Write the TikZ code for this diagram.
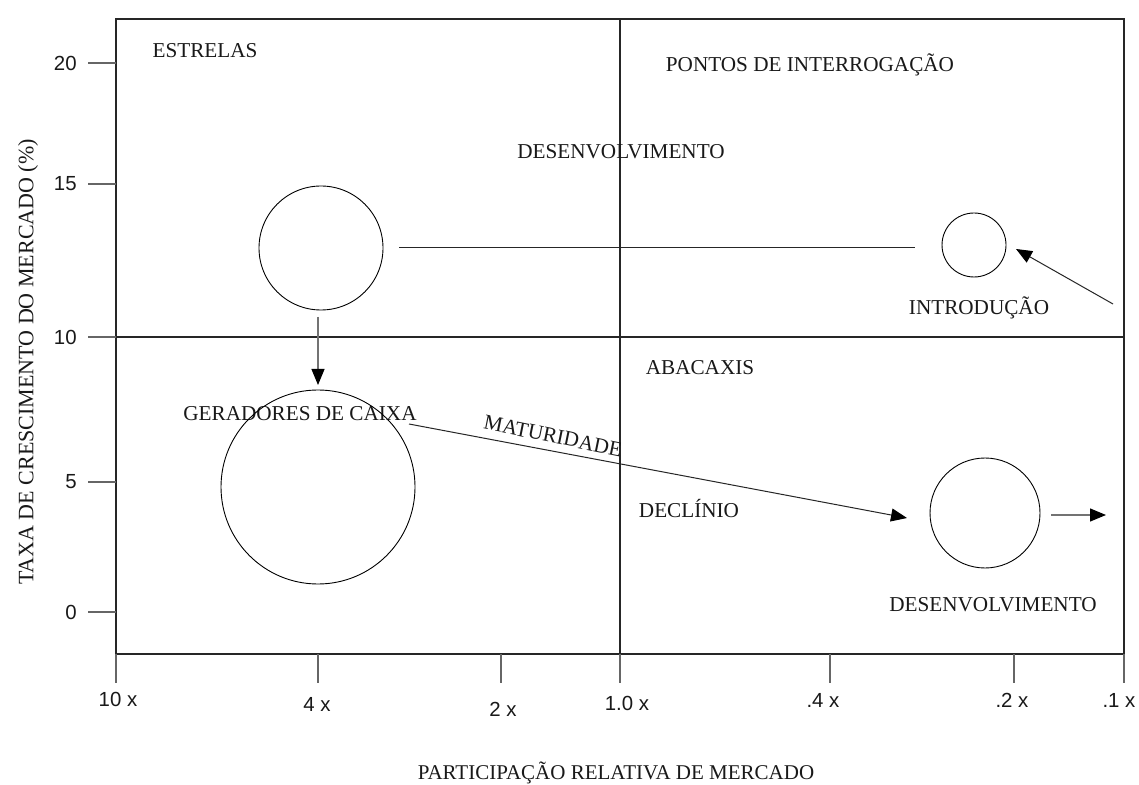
\documentclass[tikz,border=0pt]{standalone}
\usepackage{fontspec}
\setmainfont{Liberation Serif}
\newfontfamily\ticksans{Liberation Sans}
\usetikzlibrary{arrows.meta}
\begin{document}
\begin{tikzpicture}[x=0.5pt,y=-0.5pt,
  frameline/.style={line width=0.6pt,draw=black!85},
  tickline/.style={line width=0.6pt,draw=black!60},
  bubble/.style={circle,draw=black,line width=0.45pt,inner sep=0pt},
  lbl/.style={font=\fontsize{10.6}{12}\selectfont,text=black!90,inner sep=0pt},
  ticklbl/.style={font=\ticksans\fontsize{10.2}{12}\selectfont,text=black!90,inner sep=0pt},
  flow/.style={line width=0.5pt,draw=black!85,-{Triangle[length=8pt,width=6.5pt,color=black]}},
  greyflow/.style={line width=0.6pt,draw=black!55,-{Triangle[length=8pt,width=6.5pt,color=black]}},
  plain/.style={line width=0.5pt,draw=black!85}]
\useasboundingbox (0,0) rectangle (1139,785);
\fill[white] (0,0) rectangle (1139,785);
% frame and dividers
\draw[frameline] (116,19) rectangle (1124,654);
\draw[frameline] (620,19) -- (620,654);
\draw[frameline] (116,337) -- (1124,337);
% y ticks
\foreach \yy/\t in {63/20,184/15,337/10,482/5,612/0}{
  \draw[tickline] (88,\yy) -- (116,\yy);
  \node[ticklbl,anchor=east] at (77,\yy) {\t};
}
% x ticks
\foreach \xx in {116,318,501,620,830,1014,1124}{
  \draw[tickline] (\xx,654) -- (\xx,683);
}
\node[ticklbl] at (118,699) {10 x};
\node[ticklbl] at (317,704) {4 x};
\node[ticklbl] at (503,709) {2 x};
\node[ticklbl] at (627,703) {1.0 x};
\node[ticklbl] at (823,700) {.4 x};
\node[ticklbl] at (1012,700) {.2 x};
\node[ticklbl] at (1119,700) {.1 x};
% axis titles
\node[lbl,font=\fontsize{11}{13}\selectfont,rotate=90] (ytitle) at (28,362) {TAXA DE CRESCIMENTO DO MERCADO (\%)};
\node[lbl,font=\fontsize{10.5}{12}\selectfont] (xtitle) at (616,773) {PARTICIPAÇÃO RELATIVA DE MERCADO};
% quadrant labels
\node[lbl] (estrelas) at (205,51) {ESTRELAS};
\node[lbl] (pontos) at (810,65) {PONTOS DE INTERROGAÇÃO};
\node[lbl] (desenv1) at (621,152) {DESENVOLVIMENTO};
\node[lbl] (intro) at (979,308) {INTRODUÇÃO};
\node[lbl] (abacaxis) at (700,368) {ABACAXIS};
\node[lbl] (geradores) at (300,414) {GERADORES DE CAIXA};
\node[lbl] (declinio) at (689,509) {DECLÍNIO};
\node[lbl] (desenv2) at (993,605) {DESENVOLVIMENTO};
% bubbles
\node[bubble,minimum size=62pt] (c1) at (321,248) {};
\node[bubble,minimum size=32pt] (c2) at (974,245) {};
\node[bubble,minimum size=97pt] (c3) at (318,487) {};
\node[bubble,minimum size=55pt] (c4) at (985,513) {};
% connectors
\coordinate (l1a) at (399,248);
\coordinate (l1b) at (915,248);
\draw[plain] (l1a) -- (l1b);
\coordinate (a0) at (1113,304);
\coordinate (a0e) at (1016,249);
\draw[flow] (a0) -- (a0e);
\coordinate (d1) at (318,317);
\coordinate (d1e) at (318,385);
\draw[greyflow] (d1) -- (d1e);
\coordinate (m1) at (409,424);
\coordinate (m1e) at (907,518);
\draw[flow] (m1) -- (m1e);
\node[lbl,rotate=-11.5] (matur) at (553,436) {MATURIDADE};
\coordinate (r1) at (1051,515);
\coordinate (r1e) at (1106,515);
\draw[greyflow] (r1) -- (r1e);
\end{tikzpicture}
\end{document}
